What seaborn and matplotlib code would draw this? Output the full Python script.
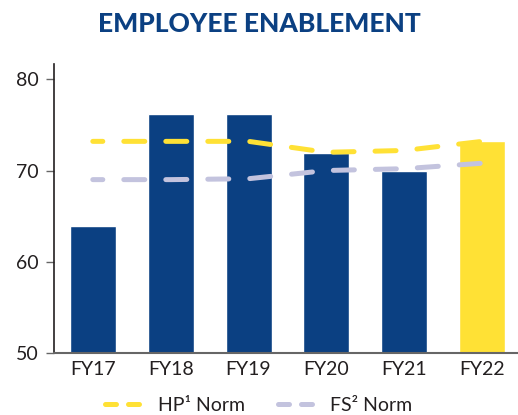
import numpy as np
import pandas as pd
import seaborn as sns
import matplotlib.pyplot as plt
from matplotlib.lines import Line2D

years = ["FY17", "FY18", "FY19", "FY20", "FY21", "FY22"]
scores = [63.9, 76.2, 76.2, 71.9, 70.0, 73.2]
hp_norm = [73.2, 73.2, 73.2, 72.0, 72.2, 73.2]
fs_norm = [69.0, 69.0, 69.1, 70.0, 70.2, 70.8]
yticks = [50, 60, 70, 80]

navy = "#0B4082"
yellow = "#FFE135"
lavender = "#C3C3DE"
bar_colors = [navy] * 5 + [yellow]

sns.set_style("white")
plt.rcParams["font.family"] = ["Lato", "DejaVu Sans"]

df = pd.DataFrame({"year": years, "score": scores, "hp": hp_norm, "fs": fs_norm})

fig = plt.figure(figsize=(5.18, 4.15), dpi=100)
ax = fig.add_axes([0.104, 0.150, 0.896, 0.696])

sns.barplot(data=df, x="year", y="score", hue="year", palette=bar_colors,
            legend=False, width=0.59, saturation=1, ax=ax)

# norm lines, dashed with round caps
for col, c in [("fs", lavender), ("hp", yellow)]:
    sns.lineplot(data=df, x="year", y=col, color=c, lw=3.6, ax=ax,
                 linestyle=(2.2, (4.2, 4.2)), dash_capstyle="round",
                 dash_joinstyle="round", sort=False)

ax.set_ylim(50, 81.7)
ax.set_xlim(-0.5, 5.46)
ax.set_yticks(yticks)
ax.set_xlabel("")
ax.set_ylabel("")

ax.tick_params(axis="y", length=5.8, width=1.0, color="#666666", pad=5,
               labelsize=14, labelcolor="#231F20", left=True)
ax.tick_params(axis="x", length=0, pad=6, labelsize=14, labelcolor="#231F20")
sns.despine(ax=ax)
ax.spines["left"].set_color("#231F20")
ax.spines["left"].set_linewidth(1.2)
ax.spines["bottom"].set_color("#666666")
ax.spines["bottom"].set_linewidth(1.5)

fig.text(0.5, 0.941, "EMPLOYEE ENABLEMENT", ha="center", va="center",
         fontsize=19, fontweight="black", color=navy)

handles = [
    Line2D([], [], color=yellow, lw=3.6, linestyle=(0, (2.2, 2.4)),
           dash_capstyle="round"),
    Line2D([], [], color=lavender, lw=3.6, linestyle=(0, (2.2, 2.4)),
           dash_capstyle="round"),
]
fig.legend(handles, ["HP\u00b9 Norm", "FS\u00b2 Norm"], loc="center",
           bbox_to_anchor=(0.5, 0.024), ncol=2, frameon=False, fontsize=14,
           handlelength=2.1, handletextpad=0.6, columnspacing=1.7,
           labelcolor="#231F20")

fig.savefig("out.png", dpi=100)
